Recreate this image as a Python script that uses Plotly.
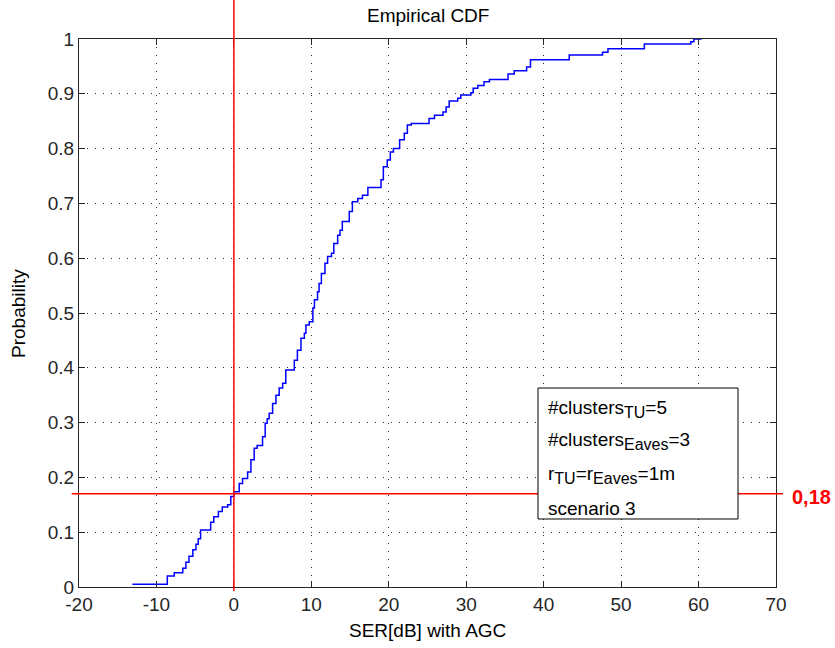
import plotly.graph_objects as go

# Empirical CDF step points (x where the step occurs, level after the step)
ser_db = [-13.1, -8.6, -7.7, -6.6, -6.2, -5.8, -5.3, -4.9, -4.6, -4.3, -3.0, -2.6, -2.0, -1.5,
          -0.8, -0.4, 0.0, 0.69, 1.12, 1.77, 2.2, 2.62, 3.0, 3.7, 4.04, 4.3, 4.56, 5.0, 5.43,
          5.85, 6.3, 6.7, 7.8, 8.2, 8.66, 9.1, 9.3, 9.73, 10.2, 10.4, 10.8, 11.0, 11.3, 11.76,
          12.1, 12.6, 12.9, 13.4, 13.7, 14.0, 14.9, 15.3, 16.0, 16.6, 17.3, 19.0, 19.3, 19.8,
          20.2, 20.6, 21.4, 22.0, 22.4, 22.9, 25.2, 25.9, 27.0, 27.4, 27.8, 28.9, 29.3, 30.6,
          30.9, 31.5, 32.3, 33.0, 35.4, 36.2, 37.8, 38.3, 43.3, 47.6, 48.3, 53.0, 59.0, 59.4, 60.4]
probability = [0.005, 0.020, 0.026, 0.034, 0.045, 0.056, 0.068, 0.078, 0.088, 0.104, 0.118, 0.128,
               0.138, 0.146, 0.150, 0.165, 0.174, 0.189, 0.198, 0.210, 0.232, 0.253, 0.258, 0.274,
               0.299, 0.307, 0.317, 0.335, 0.350, 0.363, 0.372, 0.396, 0.414, 0.432, 0.454, 0.463,
               0.478, 0.484, 0.509, 0.524, 0.539, 0.554, 0.572, 0.591, 0.603, 0.609, 0.627, 0.642,
               0.651, 0.667, 0.685, 0.703, 0.709, 0.715, 0.729, 0.743, 0.767, 0.779, 0.794, 0.800,
               0.816, 0.828, 0.843, 0.846, 0.855, 0.861, 0.867, 0.876, 0.887, 0.892, 0.898, 0.902,
               0.910, 0.915, 0.922, 0.926, 0.936, 0.942, 0.949, 0.962, 0.971, 0.976, 0.982, 0.991,
               0.995, 1.0, 1.0]

x_ticks = [-20, -10, 0, 10, 20, 30, 40, 50, 60, 70]
y_ticks = [0, 0.1, 0.2, 0.3, 0.4, 0.5, 0.6, 0.7, 0.8, 0.9, 1]
y_tick_labels = ["0", "0.1", "0.2", "0.3", "0.4", "0.5", "0.6", "0.7", "0.8", "0.9", "1"]

marker_x = 0
marker_p = 0.17
marker_label = "0,18"

SUB = '<sub><span style="font-size:16px">%s</span></sub>'
legend_lines = ["#clusters" + SUB % "TU" + "=5",
                "#clusters" + SUB % "Eaves" + "=3",
                "r" + SUB % "TU" + "=r" + SUB % "Eaves" + "=1m",
                "scenario 3"]

title_text = "Empirical CDF"
x_title = "SER[dB] with AGC"
y_title = "Probability"

FONT = "Liberation Sans, Arial, sans-serif"
FS = 19
XMIN, XMAX = -20, 70

fig = go.Figure()
fig.add_trace(go.Scatter(x=ser_db, y=probability, mode="lines", line_shape="hv",
                         line=dict(color="#0000FF", width=1.5), showlegend=False,
                         hoverinfo="skip"))

axis_common = dict(showline=True, linecolor="#262626", linewidth=1, mirror="allticks",
                   ticks="inside", ticklen=6, tickcolor="#262626",
                   showgrid=True, gridcolor="#303030", gridwidth=1, griddash="1px,7px",
                   zeroline=False, automargin=False,
                   tickfont=dict(family=FONT, size=FS, color="#262626"))

fig.update_xaxes(range=[XMIN, XMAX], tickvals=x_ticks, ticktext=[str(v) for v in x_ticks],
                 **axis_common)
fig.update_yaxes(range=[0, 1], tickvals=y_ticks, ticktext=y_tick_labels, **axis_common)

def xpaper(v):
    return (v - XMIN) / (XMAX - XMIN)

# red marker lines
fig.add_shape(type="line", xref="paper", yref="paper", x0=-0.0105, x1=1.010,
              y0=marker_p, y1=marker_p, line=dict(color="#FF0000", width=1.5), layer="above")
fig.add_shape(type="line", xref="paper", yref="paper", x0=xpaper(marker_x), x1=xpaper(marker_x),
              y0=-0.0073, y1=1.0712, line=dict(color="#FF0000", width=1.5), layer="above")

# text box
fig.add_shape(type="rect", xref="paper", yref="paper", x0=0.6585, x1=0.9455, y0=0.1241, y1=0.3631,
              line=dict(color="#000000", width=1), fillcolor="white", layer="above")

line_y_px = [409, 441, 475, 508]
for txt, ypx in zip(legend_lines, line_y_px):
    fig.add_annotation(text=txt, xref="paper", yref="paper", x=(546 - 79) / 697,
                       y=(587 - ypx) / 548, xanchor="left", yanchor="middle", showarrow=False,
                       font=dict(family=FONT, size=FS, color="#000000"))

fig.add_annotation(text="<b>" + marker_label + "</b>", xref="paper", yref="paper",
                   x=(790 - 79) / 697, y=(587 - 497) / 548, xanchor="left", yanchor="middle",
                   showarrow=False, font=dict(family=FONT, size=20, color="#FF0000"))

# titles
fig.add_annotation(text=title_text, xref="paper", yref="paper", x=0.5, y=(587 - 15) / 548,
                   xanchor="center", yanchor="middle", showarrow=False,
                   font=dict(family=FONT, size=FS, color="#000000"))
fig.add_annotation(text=x_title, xref="paper", yref="paper", x=0.5, y=(587 - 630) / 548,
                   xanchor="center", yanchor="middle", showarrow=False,
                   font=dict(family=FONT, size=FS, color="#000000"))
fig.add_annotation(text=y_title, xref="paper", yref="paper", x=(18 - 79) / 697, y=0.5,
                   xanchor="center", yanchor="middle", textangle=-90, showarrow=False,
                   font=dict(family=FONT, size=FS, color="#000000"))

fig.update_layout(width=835, height=648, autosize=False,
                  margin=dict(l=79, r=59, t=39, b=61),
                  paper_bgcolor="white", plot_bgcolor="white", showlegend=False)

fig.write_html("out.html", config={"displayModeBar": False},
               post_script="document.body.style.margin='0px';")
